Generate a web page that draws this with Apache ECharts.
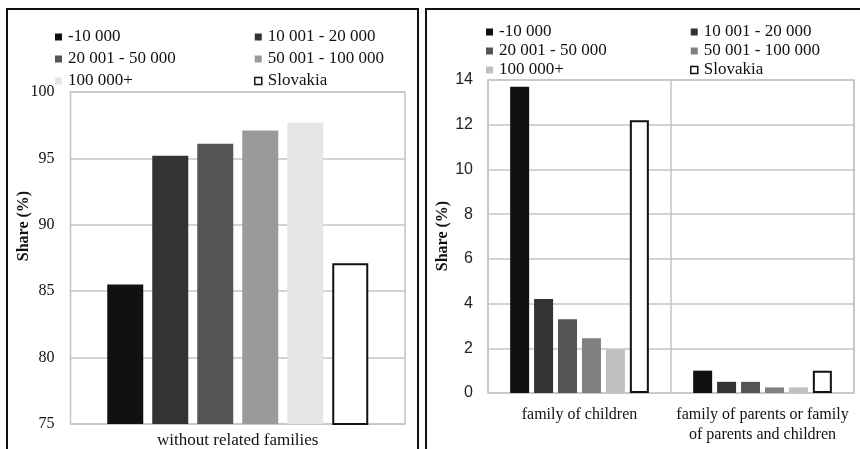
<!DOCTYPE html>
<html>
<head>
<meta charset="utf-8">
<script src="https://cdn.jsdelivr.net/npm/echarts@6/dist/echarts.min.js"></script>
<style>html,body{margin:0;padding:0;background:#fff;}#c{width:860px;height:449px;}</style>
</head>
<body>
<div id="c"></div>
<script>
const seriesNames = ['-10 000', '10 001 - 20 000', '20 001 - 50 000', '50 001 - 100 000', '100 000+', 'Slovakia'];
const leftCategories = ['without related families'];
const rightCategories = ['family of children', 'family of parents or family\nof parents and children'];
const leftValues = [85.5, 95.2, 96.1, 97.1, 97.7, 87.1];
const rightChildren = [13.7, 4.2, 3.3, 2.45, 1.95, 12.2];
const rightParents = [1.0, 0.5, 0.5, 0.25, 0.25, 1.0];
const leftTicks = { min: 75, max: 100, interval: 5 };
const rightTicks = { min: 0, max: 14, interval: 2 };

const leftColors = ['#111111', '#333333', '#555555', '#9a9a9a', '#e6e6e6', '#ffffff'];
const rightColors = ['#111111', '#333333', '#555555', '#808080', '#c0c0c0', '#ffffff'];

function itemStyleFor(colors, i) {
  if (i === 5) return { color: '#ffffff', borderColor: '#111111', borderWidth: 2 };
  return { color: colors[i], borderColor: colors[i], borderWidth: 0 };
}

const serif = '"Liberation Serif", "Times New Roman", serif';
const sans = '"Liberation Sans", Arial, sans-serif';

function legendCol(idx, colors, left, top, lh) {
  return {
    orient: 'vertical', left: left, top: top, itemGap: 0,
    itemWidth: 7, itemHeight: 7, icon: 'rect',
    textStyle: { fontFamily: serif, fontSize: 17, color: '#111', lineHeight: lh, padding: [0, 0, 0, 1] },
    data: idx.map(i => ({ name: seriesNames[i], itemStyle: i === 5 ? { color: '#fff', borderColor: '#111', borderWidth: 1.5 } : { color: colors[i] } })),
    selectedMode: false
  };
}

const series = [];
seriesNames.forEach((n, i) => {
  series.push({
    type: 'bar', name: n, xAxisIndex: 0, yAxisIndex: 0,
    data: [leftValues[i]], barWidth: 36, barGap: '25%',
    itemStyle: itemStyleFor(leftColors, i)
  });
});
seriesNames.forEach((n, i) => {
  series.push({
    type: 'bar', name: n, xAxisIndex: 1, yAxisIndex: 1,
    data: [rightChildren[i], rightParents[i]], barWidth: 19, barGap: '26%',
    itemStyle: itemStyleFor(rightColors, i)
  });
});

const chart = echarts.init(document.getElementById('c'), null, { renderer: 'canvas' });
chart.setOption({
  animation: false,
  backgroundColor: '#fff',
  legend: [
    legendCol([0, 2, 4], leftColors, 50, 21, 22),
    legendCol([1, 3, 5], leftColors, 249, 21, 22),
    legendCol([0, 2, 4], rightColors, 481, 17.5, 19),
    legendCol([1, 3, 5], rightColors, 685, 17.5, 19)
  ],
  grid: [
    { left: 70.5, top: 92, right: 455, bottom: 24, show: true, borderColor: '#c4c4c4', borderWidth: 1.5 },
    { left: 488, top: 80, right: 6, bottom: 56, show: true, borderColor: '#c4c4c4', borderWidth: 1.5 }
  ],
  xAxis: [
    { type: 'category', gridIndex: 0, data: leftCategories,
      axisLine: { show: false }, axisTick: { show: false },
      axisLabel: { fontFamily: serif, fontSize: 17, color: '#111', margin: 8 } },
    { type: 'category', gridIndex: 1, data: rightCategories,
      axisLine: { show: false }, axisTick: { show: false },
      splitLine: { show: true, interval: 0, lineStyle: { color: '#c4c4c4', width: 1.5 } },
      axisLabel: { fontFamily: serif, fontSize: 16, color: '#111', margin: 12, lineHeight: 20, interval: 0 } }
  ],
  yAxis: [
    { type: 'value', gridIndex: 0, min: leftTicks.min, max: leftTicks.max, interval: leftTicks.interval,
      axisLine: { show: false }, axisTick: { show: false },
      splitLine: { lineStyle: { color: '#c4c4c4', width: 1.5 } },
      axisLabel: { fontFamily: serif, fontSize: 16, color: '#111', margin: 16 } },
    { type: 'value', gridIndex: 1, min: rightTicks.min, max: rightTicks.max, interval: rightTicks.interval,
      axisLine: { show: false }, axisTick: { show: false },
      splitLine: { lineStyle: { color: '#c4c4c4', width: 1.5 } },
      axisLabel: { fontFamily: sans, fontSize: 16, color: '#222', margin: 15 } }
  ],
  graphic: [
    { type: 'rect', shape: { x: 7, y: 9, width: 411, height: 460 }, style: { fill: 'none', stroke: '#111', lineWidth: 2 }, z: 100 },
    { type: 'rect', shape: { x: 426, y: 9, width: 440, height: 460 }, style: { fill: 'none', stroke: '#111', lineWidth: 2 }, z: 100 },
    { type: 'text', x: 24, y: 226, rotation: Math.PI / 2,
      style: { text: 'Share (%)', fontFamily: serif, fontWeight: 'bold', fontSize: 16, fill: '#111', textAlign: 'center', textVerticalAlign: 'middle' } },
    { type: 'text', x: 443, y: 236, rotation: Math.PI / 2,
      style: { text: 'Share (%)', fontFamily: serif, fontWeight: 'bold', fontSize: 16, fill: '#111', textAlign: 'center', textVerticalAlign: 'middle' } }
  ],
  series: series
});
</script>
</body>
</html>
